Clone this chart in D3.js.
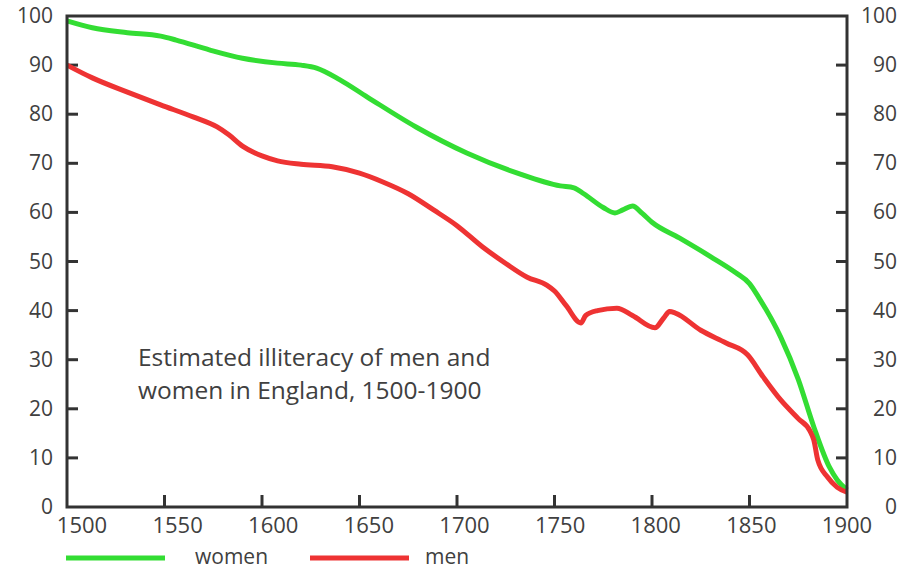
<!DOCTYPE html>
<html><head><meta charset="utf-8">
<script src="https://cdn.jsdelivr.net/npm/d3@7"></script>
<style>body{margin:0;background:#fff}svg{display:block}text{font-family:"Open Sans",sans-serif;fill:#404040}</style>
</head><body><svg id="c" width="909" height="569"></svg>
<script>
const womenYears = [1500,1513,1531,1548,1556,1573,1590,1608,1620,1628,1640,1654,1679,1705,1731,1753,1760,1765,1775,1781,1785,1790,1795,1800,1814,1830,1843,1850,1855,1866,1875,1883,1891,1895,1900];
const womenValues = [99,97.6,96.6,95.9,95.1,93.1,91.4,90.4,90.0,89.4,87,83.5,77.4,72.1,68,65.4,65,63.8,61,59.9,60.5,61.3,59.8,58,54.8,51,47.7,45.5,42.5,34.6,26,16.3,8.1,5.5,3.5];
const menYears = [1500,1513,1531,1548,1565,1577,1583,1590,1600,1608,1620,1636,1650,1662,1675,1688,1700,1713,1725,1736,1746,1750,1756,1763.5,1766,1772,1782,1790,1801.5,1806,1809,1812,1825,1838,1849,1857,1866,1875,1881,1883,1885,1890,1895,1900];
const menValues = [90,87.4,84.5,81.9,79.4,77.4,75.8,73.5,71.5,70.5,69.8,69.3,68,66.2,63.8,60.5,57.3,53,49.6,46.8,45.2,44,41,37.5,39,40,40.5,39,36.5,38.5,39.8,39.5,36,33.4,31,26.5,21.8,18,15.5,13.6,9.6,6.1,4,3];
const xTicks = [1500,1550,1600,1650,1700,1750,1800,1850,1900];
const yTicks = [0,10,20,30,40,50,60,70,80,90,100];
const seriesNames = ["women","men"];
const annotation = ["Estimated illiteracy of men and","women in England, 1500-1900"];

const svg = d3.select("#c");
const x = d3.scaleLinear().domain([1500,1900]).range([67,847]);
const xLab = d3.scaleLinear().domain([1500,1900]).range([82,847]);
const y = d3.scaleLinear().domain([0,100]).range([507,16]);
const colors = {women:"#33dd33", men:"#ee3333"};

const line = d3.line().x(d=>x(d[0])).y(d=>y(d[1])).curve(d3.curveMonotoneX);
const women = womenYears.map((t,i)=>[t,womenValues[i]]);
const men = menYears.map((t,i)=>[t,menValues[i]]);

// inner ticks
const tickG = svg.append("g").attr("stroke","#333").attr("stroke-width",3);
yTicks.filter(v=>v>0&&v<100).forEach(v=>{
  tickG.append("line").attr("x1",x(1500)).attr("x2",x(1500)+11).attr("y1",y(v)).attr("y2",y(v));
  tickG.append("line").attr("x1",x(1900)).attr("x2",x(1900)-11).attr("y1",y(v)).attr("y2",y(v));
});
xTicks.filter(v=>v>1500&&v<1900).forEach(v=>{
  tickG.append("line").attr("x1",x(v)).attr("x2",x(v)).attr("y1",y(0)).attr("y2",y(0)-12);
});

// lines
svg.append("path").datum(women).attr("d",line).attr("fill","none").attr("stroke",colors.women).attr("stroke-width",5).attr("stroke-linejoin","round");
svg.append("path").datum(men).attr("d",line).attr("fill","none").attr("stroke",colors.men).attr("stroke-width",5).attr("stroke-linejoin","round");

// frame
svg.append("rect").attr("x",x(1500)).attr("y",y(100)).attr("width",x(1900)-x(1500)).attr("height",y(0)-y(100))
  .attr("fill","none").attr("stroke","#333").attr("stroke-width",3);

// labels
svg.append("g").selectAll("text").data(yTicks).join("text")
  .attr("x",53).attr("y",d=>y(d)+7).attr("text-anchor","end").attr("font-size",21).text(d=>d);
svg.append("g").selectAll("text").data(yTicks).join("text")
  .attr("x",897).attr("y",d=>y(d)+7).attr("text-anchor","end").attr("font-size",21).text(d=>d);
svg.append("g").selectAll("text").data(xTicks).join("text")
  .attr("x",d=>xLab(d)).attr("y",533).attr("text-anchor","middle").attr("font-size",22).text(d=>d);

// annotation
svg.append("g").selectAll("text").data(annotation).join("text")
  .attr("x",138).attr("y",(d,i)=>366+i*33).attr("font-size",24.5).text(d=>d);

// legend
const legX = [[66,165,195],[310,409,425]];
seriesNames.forEach((n,i)=>{
  svg.append("line").attr("x1",legX[i][0]).attr("x2",legX[i][1]).attr("y1",558).attr("y2",558)
    .attr("stroke",colors[n]).attr("stroke-width",5);
  svg.append("text").attr("x",legX[i][2]).attr("y",564).attr("font-size",21).text(n);
});
</script></body></html>
